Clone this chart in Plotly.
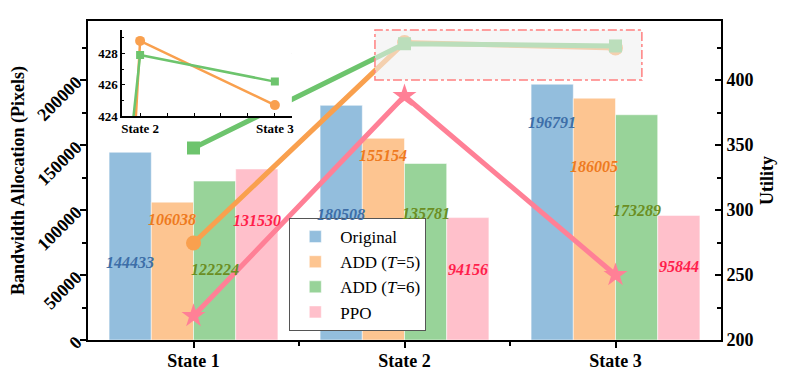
import plotly.graph_objects as go

# data
states = ['State 1', 'State 2', 'State 3']
series_names = ['Original', 'ADD (<i>T</i>=5)', 'ADD (<i>T</i>=6)', 'PPO']
bw_original = [144433, 180508, 196791]
bw_add5 = [106038, 155154, 186005]
bw_add6 = [122224, 135781, 173289]
bw_ppo = [131530, 94156, 95844]

util_add5 = [274.6, 428.8, 424.7]
util_add6 = [347.7, 427.9, 426.2]
util_ppo = [218.5, 387.7, 250.0]

# heights (left axis units) where the value labels sit inside the bars
label_y_original = [60000, 96900, 167700]
label_y_add5 = [93000, 142300, 133100]
label_y_add6 = [54600, 97700, 100000]
label_y_ppo = [92300, 54600, 56200]

bar_colors = ['#93BEDD', '#FDC591', '#98D399', '#FFC0CB']
label_colors = ['#3D6EA8', '#EE7A1E', '#6B8E23', '#FF1F4B']
line_colors = {'add5': '#F9A04E', 'add6': '#6DC46D', 'ppo': '#FF8096'}

FONT = 'Liberation Serif'
xs = list(range(len(states)))

fig = go.Figure()

bars = [bw_original, bw_add5, bw_add6, bw_ppo]
label_ys = [label_y_original, label_y_add5, label_y_add6, label_y_ppo]
bargap = 0.2
width = (1 - bargap) / len(bars)

for i, (name, vals) in enumerate(zip(series_names, bars)):
    fig.add_trace(go.Bar(x=xs, y=vals, name=name, marker_color=bar_colors[i],
                         marker_line=dict(color='rgba(255,255,255,0.5)', width=1),
                         yaxis='y'))
    offset = -0.5 * (1 - bargap) + width * (i + 0.5)
    for j, v in enumerate(vals):
        fig.add_annotation(x=xs[j] + offset, y=label_ys[i][j], xref='x', yref='y',
                           text='<b><i>%d</i></b>' % v, showarrow=False,
                           font=dict(family=FONT, size=16, color=label_colors[i]))

# utility lines on the right axis
fig.add_trace(go.Scatter(x=xs, y=util_add5, yaxis='y2', mode='lines+markers', showlegend=False,
                         line=dict(color=line_colors['add5'], width=5),
                         marker=dict(symbol='circle', size=15, color=line_colors['add5'])))
fig.add_trace(go.Scatter(x=xs, y=util_add6, yaxis='y2', mode='lines+markers', showlegend=False,
                         line=dict(color=line_colors['add6'], width=5),
                         marker=dict(symbol='square', size=13, color=line_colors['add6'])))
fig.add_trace(go.Scatter(x=xs, y=util_ppo, yaxis='y2', mode='lines+markers', showlegend=False,
                         line=dict(color=line_colors['ppo'], width=5),
                         marker=dict(symbol='star', size=18, color=line_colors['ppo'])))

# zoomed inset
fig.add_trace(go.Scatter(x=xs, y=util_add5, xaxis='x3', yaxis='y3', mode='lines+markers', showlegend=False,
                         line=dict(color=line_colors['add5'], width=2.5),
                         marker=dict(symbol='circle', size=10, color=line_colors['add5'])))
fig.add_trace(go.Scatter(x=xs, y=util_add6, xaxis='x3', yaxis='y3', mode='lines+markers', showlegend=False,
                         line=dict(color=line_colors['add6'], width=2.5),
                         marker=dict(symbol='square', size=8, color=line_colors['add6'])))

tick_font = dict(family=FONT, size=18, color='black', weight='bold')
title_font = dict(family=FONT, size=18, color='black', weight='bold')

# the page body adds an 8px margin, so the figure is 8px smaller on each side
fig.update_layout(
    width=781, height=366,
    margin=dict(l=80, r=68, t=13, b=34),
    plot_bgcolor='white', paper_bgcolor='white',
    barmode='group', bargap=bargap, bargroupgap=0,
    font=dict(family=FONT, color='black'),
    xaxis=dict(range=[-0.5, 2.5], tickvals=xs, ticktext=states, tickfont=tick_font, automargin=False,
               showline=True, linecolor='black', linewidth=2, mirror=True, ticklabelstandoff=-3,
               ticks='outside', ticklen=6, tickwidth=1.5, tickcolor='black', showgrid=False,
               zeroline=False,
               minor=dict(tickvals=[0.5, 1.5], ticks='outside', ticklen=4, tickcolor='black')),
    yaxis=dict(range=[0, 245400], tickvals=[0, 50000, 100000, 150000, 200000], tickformat='d',
               tickangle=-45, automargin=False,
               tickfont=tick_font, showline=True, linecolor='black', linewidth=2,
               ticks='outside', ticklen=6, tickwidth=1.5, tickcolor='black', showgrid=False, zeroline=False,
               minor=dict(dtick=25000, ticks='outside', ticklen=4, tickcolor='black'),
               title=dict(text='Bandwidth Allocation (Pixels)', font=title_font, standoff=4)),
    yaxis2=dict(range=[200, 445.4], overlaying='y', side='right', tickvals=[200, 250, 300, 350, 400],
                tickfont=tick_font, showline=True, linecolor='black', linewidth=2, automargin=False,
                ticks='inside', ticklen=6, tickwidth=1.5, tickcolor='black', showgrid=False, zeroline=False,
                minor=dict(dtick=25, ticks='inside', ticklen=4, tickcolor='black'),
                title=dict(text='Utility', font=title_font, standoff=8)),
    xaxis3=dict(domain=[0.054, 0.322], anchor='y3', range=[0.867, 2.126], tickvals=[1, 2],
                ticktext=['State 2', 'State 3'],
                tickfont=dict(family=FONT, size=13, color='black', weight='bold'),
                showline=True, linecolor='black', linewidth=1.5, ticks='inside', ticklen=3,
                tickcolor='black', showgrid=False, zeroline=False,
                minor=dict(dtick=0.2, tick0=1, ticks='inside', ticklen=3, tickcolor='black')),
    yaxis3=dict(domain=[0.702, 0.972], anchor='x3', range=[424, 429.5], tickvals=[424, 426, 428],
                tickfont=dict(family=FONT, size=13, color='black', weight='bold'),
                showline=True, linecolor='black', linewidth=1.5, ticks='inside', ticklen=3,
                tickcolor='black', showgrid=False, zeroline=False,
                minor=dict(dtick=1, ticks='inside', ticklen=2, tickcolor='black')),
    legend=dict(x=0.318, y=0.028, xanchor='left', yanchor='bottom', bgcolor='white',
                bordercolor='#555555', borderwidth=1, font=dict(family=FONT, size=17, color='black'),
                tracegroupgap=0, itemwidth=40),
)

# dotted reference line in the inset
fig.add_shape(type='line', xref='x3 domain', x0=0, x1=1, yref='y3', y0=428, y1=428,
              line=dict(color='#C8C8C8', width=1, dash='dot'), layer='below')

# highlighted region around the State 2/3 utility points
fig.add_shape(type='rect', xref='x', yref='y2', x0=0.86, x1=2.125, y0=400, y1=438.5,
              fillcolor='rgba(240,240,240,0.6)', line=dict(color='#FF8080', width=1.5, dash='dashdot'),
              layer='above')

fig.write_html('out.html')
